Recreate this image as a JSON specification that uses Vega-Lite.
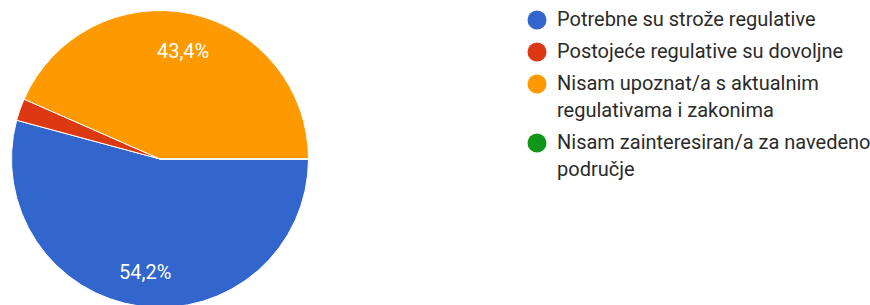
{
  "$schema": "https://vega.github.io/schema/vega-lite/v6.json",
  "width": 320,
  "height": 318,
  "padding": 0,
  "background": "white",
  "data": {
    "values": [
      {"answer": "Potrebne su strože regulative", "pct": 54.2, "label": "54,2%"},
      {"answer": "Postojeće regulative su dovoljne", "pct": 2.4, "label": ""},
      {"answer": "Nisam upoznat/a s aktualnim regulativama i zakonima", "pct": 43.4, "label": "43,4%"},
      {"answer": "Nisam zainteresiran/a za navedeno područje", "pct": 0, "label": ""}
    ]
  },
  "transform": [{"window": [{"op": "row_number", "as": "ord"}]}],
  "encoding": {
    "theta": {"field": "pct", "type": "quantitative", "stack": true, "scale": {"range": [1.5707963, 7.8539816]}},
    "order": {"field": "ord", "type": "quantitative"},
    "color": {
      "field": "answer",
      "type": "nominal",
      "scale": {
        "domain": ["Potrebne su strože regulative", "Postojeće regulative su dovoljne", "Nisam upoznat/a s aktualnim regulativama i zakonima", "Nisam zainteresiran/a za navedeno područje"],
        "range": ["#3366cc", "#dc3912", "#ff9900", "#109618"]
      },
      "legend": {
        "title": null,
        "orient": "none",
        "legendX": 527,
        "legendY": 10,
        "symbolType": "circle",
        "symbolSize": 361,
        "symbolStrokeWidth": 0,
        "symbolOpacity": 1,
        "labelFont": "Roboto",
        "labelFontSize": 20,
        "labelColor": "#2b2b2b",
        "labelOffset": 10,
        "labelLimit": 400,
        "rowPadding": 12,
        "labelExpr": "datum.label == 'Nisam upoznat/a s aktualnim regulativama i zakonima' ? ['Nisam upoznat/a s aktualnim', 'regulativama i zakonima'] : datum.label == 'Nisam zainteresiran/a za navedeno područje' ? ['Nisam zainteresiran/a za navedeno', 'područje'] : datum.label"
      }
    }
  },
  "layer": [
    {"mark": {"type": "arc", "outerRadius": 148.5, "stroke": "white", "strokeWidth": 1}},
    {
      "mark": {"type": "text", "radius": 112, "dy": 3, "font": "Roboto", "fontSize": 20},
      "encoding": {"text": {"field": "label"}, "color": {"value": "white"}}
    }
  ],
  "config": {"view": {"stroke": null}, "style": {"guide-label": {"lineHeight": 27}}}
}
